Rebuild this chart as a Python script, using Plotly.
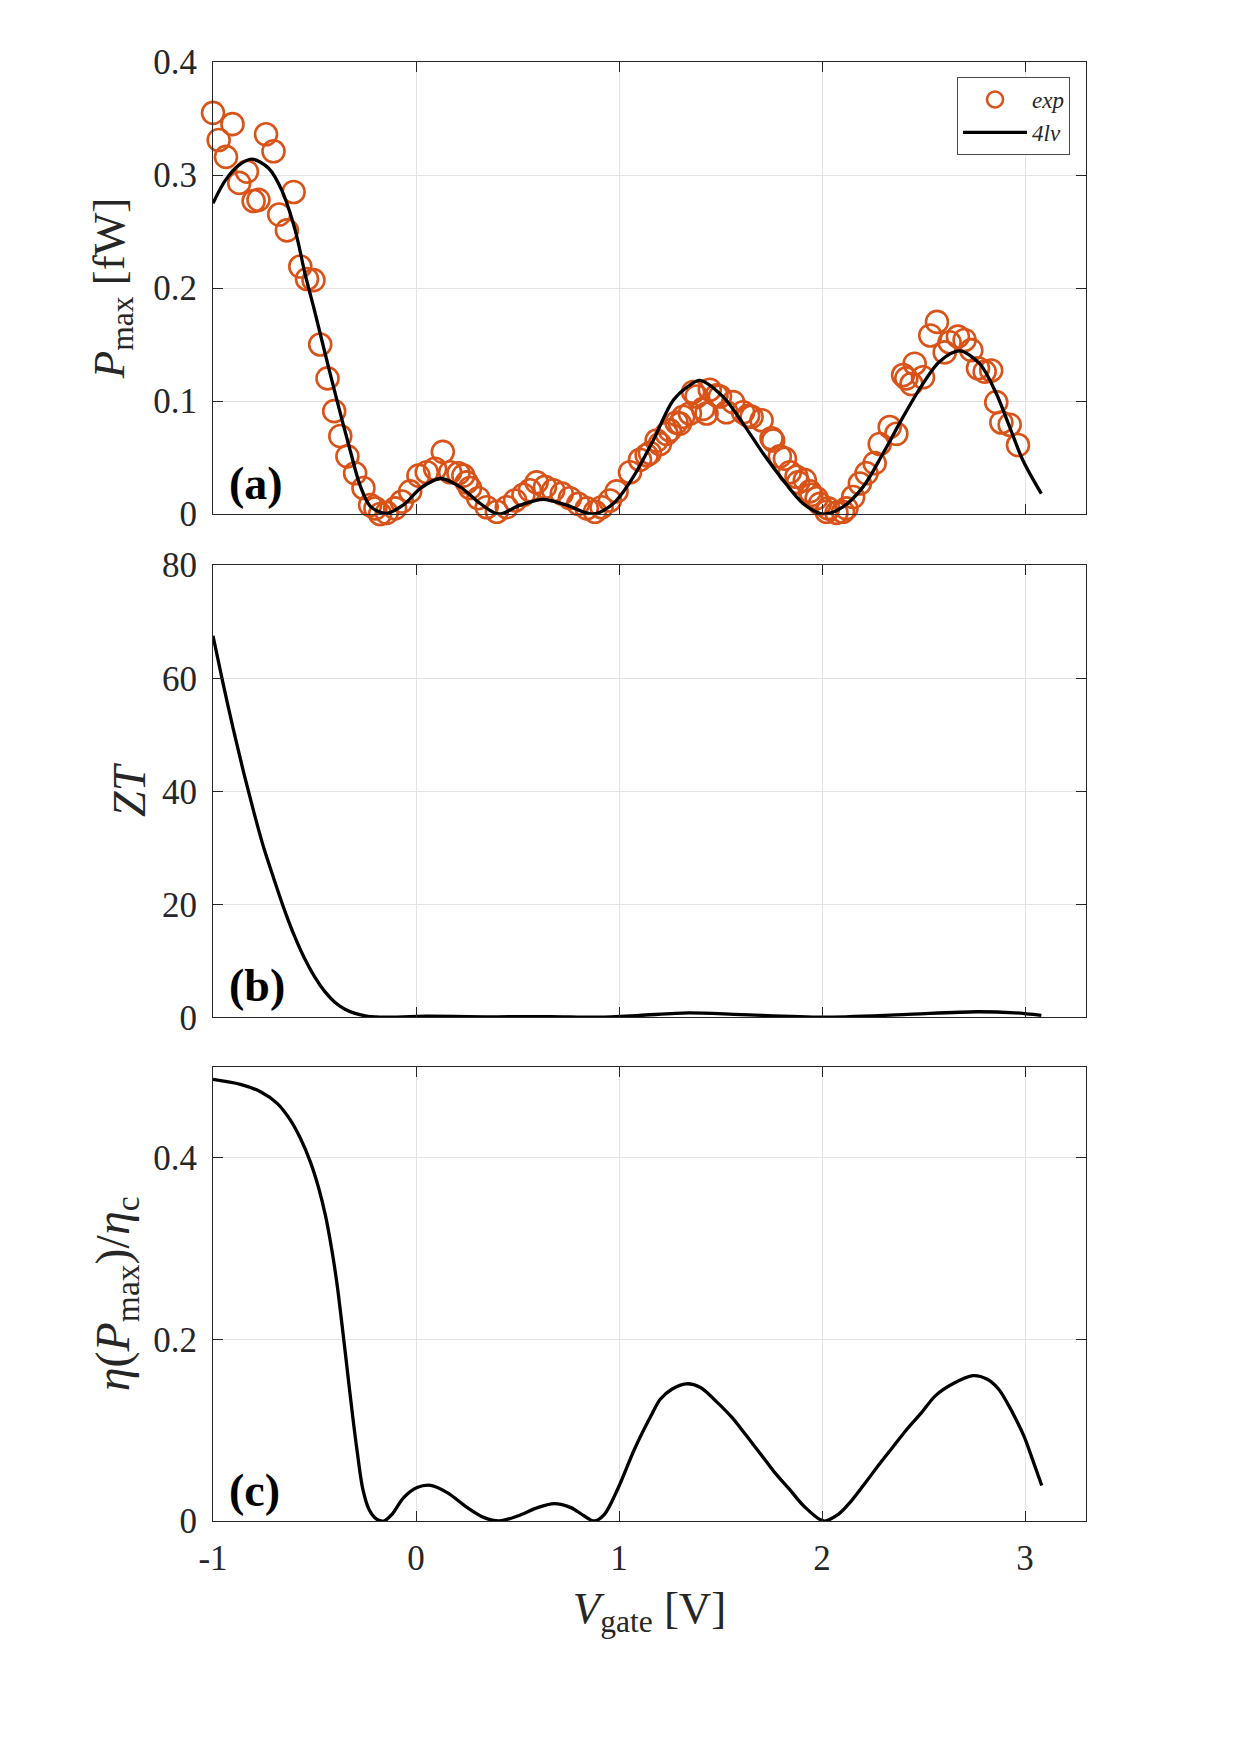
import plotly.graph_objects as go

# ---------------- data ----------------
# Panel (a): experimental P_max [fW]
exp_v = [-1.000, -0.972, -0.936, -0.904, -0.871, -0.833, -0.800, -0.776, -0.739, -0.702,
         -0.674, -0.636, -0.603, -0.570, -0.537, -0.505, -0.472, -0.436, -0.403, -0.373,
         -0.338, -0.300, -0.259, -0.226, -0.200, -0.177, -0.144, -0.103, -0.070, -0.029,
         0.012, 0.053, 0.094, 0.132, 0.168, 0.209, 0.233, 0.250, 0.266, 0.307,
         0.348, 0.398, 0.447, 0.488, 0.529, 0.561, 0.594, 0.635, 0.676, 0.718,
         0.758, 0.799, 0.841, 0.881, 0.914, 0.955, 0.988, 1.054, 1.103, 1.136,
         1.152, 1.185, 1.201, 1.234, 1.250, 1.283, 1.300, 1.316, 1.349, 1.365,
         1.382, 1.414, 1.431, 1.447, 1.480, 1.497, 1.529, 1.562, 1.611, 1.636,
         1.653, 1.702, 1.751, 1.759, 1.792, 1.817, 1.841, 1.874, 1.882, 1.915,
         1.940, 1.948, 1.973, 1.989, 2.022, 2.030, 2.071, 2.103, 2.120, 2.153,
         2.186, 2.219, 2.259, 2.284, 2.333, 2.366, 2.399, 2.415, 2.440, 2.456,
         2.497, 2.533, 2.566, 2.604, 2.628, 2.669, 2.702, 2.735, 2.768, 2.801,
         2.833, 2.858, 2.883, 2.924, 2.965]
exp_p = [0.355, 0.331, 0.316, 0.345, 0.293, 0.303, 0.277, 0.278, 0.336, 0.321,
         0.265, 0.251, 0.285, 0.219, 0.208, 0.207, 0.150, 0.120, 0.091, 0.069,
         0.051, 0.036, 0.023, 0.008, 0.005, 0.000, 0.001, 0.005, 0.011, 0.020,
         0.034, 0.037, 0.040, 0.055, 0.037, 0.036, 0.034, 0.028, 0.023, 0.014,
         0.006, 0.002, 0.006, 0.012, 0.017, 0.021, 0.028, 0.024, 0.021, 0.018,
         0.014, 0.009, 0.005, 0.002, 0.006, 0.012, 0.020, 0.037, 0.048, 0.052,
         0.054, 0.065, 0.062, 0.071, 0.074, 0.081, 0.080, 0.086, 0.089, 0.108,
         0.104, 0.093, 0.089, 0.110, 0.105, 0.104, 0.090, 0.099, 0.090, 0.087,
         0.086, 0.083, 0.067, 0.065, 0.051, 0.049, 0.037, 0.033, 0.028, 0.030,
         0.020, 0.017, 0.014, 0.009, 0.002, 0.005, 0.001, 0.002, 0.005, 0.015,
         0.027, 0.036, 0.045, 0.062, 0.077, 0.071, 0.123, 0.120, 0.115, 0.133,
         0.121, 0.158, 0.170, 0.143, 0.152, 0.157, 0.154, 0.145, 0.129, 0.126,
         0.127, 0.099, 0.081, 0.079, 0.061]

# Panel (a): 4-level model P_max [fW]
fit_v = [-1.000, -0.940, -0.874, -0.808, -0.726, -0.660, -0.595, -0.546, -0.500, -0.456,
         -0.390, -0.324, -0.275, -0.226, -0.152, -0.062, 0.020, 0.119, 0.217, 0.316,
         0.406, 0.512, 0.627, 0.742, 0.873, 0.972, 1.070, 1.168, 1.267, 1.349,
         1.398, 1.513, 1.611, 1.710, 1.808, 1.906, 2.005, 2.103, 2.202, 2.300,
         2.399, 2.497, 2.579, 2.677, 2.776, 2.858, 2.924, 2.989, 3.080]
fit_p = [0.275, 0.295, 0.3085, 0.314, 0.306, 0.286, 0.251, 0.212, 0.180, 0.148,
         0.101, 0.056, 0.025, 0.007, 0.0005, 0.008, 0.0225, 0.0314, 0.024, 0.0093,
         0.0, 0.0078, 0.013, 0.0078, 0.0, 0.0093, 0.0328, 0.065, 0.1006, 0.114,
         0.1183, 0.1036, 0.080, 0.0535, 0.030, 0.0093, 0.0, 0.0063, 0.024, 0.0535,
         0.0859, 0.1154, 0.135, 0.1443, 0.133, 0.1066, 0.077, 0.0476, 0.018]

# Panel (b): ZT
zt_v = [-1.00, -0.95, -0.90, -0.85, -0.80, -0.75, -0.70, -0.65, -0.60, -0.55,
        -0.50, -0.45, -0.40, -0.35, -0.30, -0.25, -0.20, -0.15, 0.05, 0.40,
        0.66, 0.90, 1.10, 1.34, 1.60, 2.00, 2.40, 2.76, 2.95, 3.08]
zt = [67.5, 59.0, 51.0, 43.5, 36.5, 30.0, 24.5, 19.2, 14.5, 10.5,
      7.2, 4.6, 2.7, 1.45, 0.7, 0.28, 0.08, 0.03, 0.2, 0.1,
      0.15, 0.05, 0.35, 0.8, 0.5, 0.05, 0.5, 1.0, 0.8, 0.35]

# Panel (c): eta(P_max)/eta_c
eta_v = [-1.000, -0.865, -0.766, -0.684, -0.618, -0.569, -0.520, -0.479, -0.446, -0.413,
         -0.388, -0.364, -0.339, -0.314, -0.289, -0.262, -0.232, -0.194, -0.158, -0.118,
         -0.061, 0.005, 0.072, 0.154, 0.253, 0.336, 0.410, 0.500, 0.599, 0.681,
         0.763, 0.829, 0.878, 0.928, 0.993, 1.076, 1.158, 1.203, 1.260, 1.331,
         1.401, 1.486, 1.556, 1.627, 1.698, 1.768, 1.839, 1.910, 2.008, 2.080,
         2.136, 2.206, 2.277, 2.347, 2.418, 2.489, 2.559, 2.644, 2.743, 2.814,
         2.870, 2.912, 2.955, 2.997, 3.025, 3.082]
eta = [0.486, 0.4805, 0.4724, 0.4596, 0.441, 0.421, 0.395, 0.366, 0.336, 0.296,
       0.259, 0.215, 0.167, 0.119, 0.075, 0.035, 0.013, 0.002, 0.0, 0.0074,
       0.0257, 0.0368, 0.0393, 0.0313, 0.0147, 0.0037, 0.0, 0.0055, 0.0147, 0.0191,
       0.0147, 0.0055, 0.0, 0.0074, 0.035, 0.079, 0.116, 0.134, 0.145, 0.151,
       0.147, 0.130, 0.114, 0.094, 0.0735, 0.053, 0.035, 0.0165, 0.0, 0.0074,
       0.020, 0.040, 0.061, 0.081, 0.101, 0.119, 0.138, 0.151, 0.160, 0.156,
       0.145, 0.130, 0.112, 0.092, 0.075, 0.039]

x_ticks = [-1, 0, 1, 2, 3]
x_ticktext = ["-1", "0", "1", "2", "3"]
pa_ticks = [0, 0.1, 0.2, 0.3, 0.4]
pa_ticktext = ["0", "0.1", "0.2", "0.3", "0.4"]
zt_ticks = [0, 20, 40, 60, 80]
eta_ticks = [0, 0.2, 0.4]
eta_ticktext = ["0", "0.2", "0.4"]
panel_labels = ["(a)", "(b)", "(c)"]

# ---------------- styling ----------------
FONT = "Liberation Serif"
TXT = "#262626"
ORANGE = "#D95319"
GRID = "#e3e3e3"

fig = go.Figure()
fig.add_trace(go.Scatter(x=exp_v, y=exp_p, mode="markers", name="<i>exp</i>",
                         marker=dict(symbol="circle-open", size=22, color=ORANGE,
                                     line=dict(width=2.6, color=ORANGE)),
                         cliponaxis=False, xaxis="x", yaxis="y"))
fig.add_trace(go.Scatter(x=fit_v, y=fit_p, mode="lines", name="<i>4lv</i>",
                         line=dict(color="black", width=3.3, shape="spline", smoothing=0.9),
                         xaxis="x", yaxis="y"))
fig.add_trace(go.Scatter(x=zt_v, y=zt, mode="lines", showlegend=False,
                         line=dict(color="black", width=3.3, shape="spline", smoothing=0.8),
                         xaxis="x2", yaxis="y2"))
fig.add_trace(go.Scatter(x=eta_v, y=eta, mode="lines", showlegend=False,
                         line=dict(color="black", width=3.3, shape="spline", smoothing=0.9),
                         xaxis="x3", yaxis="y3"))

L, R, T, B = 213, 154, 62, 234
W, H = 1240, 1755
ph = H - T - B


def dom(top_px, bot_px):
    lo = 1 - (bot_px - T) / ph
    hi = 1 - (top_px - T) / ph
    return [max(0.0, min(1.0, lo)), max(0.0, min(1.0, hi))]


tickfont = dict(family=FONT, size=35, color=TXT)
common_x = dict(range=[-1, 3.3], tickvals=x_ticks, ticktext=x_ticktext,
                showgrid=True, gridcolor=GRID, gridwidth=1, zeroline=False,
                showline=True, linecolor=TXT, linewidth=1, mirror="ticks",
                ticks="inside", ticklen=10, tickcolor=TXT, tickfont=tickfont)
common_y = dict(showgrid=True, gridcolor=GRID, gridwidth=1, zeroline=False,
                showline=True, linecolor=TXT, linewidth=1, mirror="ticks",
                ticks="inside", ticklen=10, tickcolor=TXT, tickfont=tickfont,
                ticklabelstandoff=8)


def tf(size):
    return dict(family=FONT, size=size, color=TXT)


fig.update_layout(
    width=W, height=H,
    margin=dict(l=L, r=R, t=T, b=B, pad=0),
    paper_bgcolor="white", plot_bgcolor="white",
    font=dict(family=FONT, color=TXT),
    xaxis=dict(common_x, anchor="y", showticklabels=False),
    xaxis2=dict(common_x, anchor="y2", showticklabels=False, matches="x"),
    xaxis3=dict(common_x, anchor="y3", ticklabelstandoff=6,
                title=dict(text="<i>V</i><sub>gate</sub> [V]", font=tf(45), standoff=14)),
    yaxis=dict(common_y, domain=dom(62, 514), range=[0, 0.4], tickvals=pa_ticks,
               ticktext=pa_ticktext,
               title=dict(text="<i>P</i><sub>max</sub> [fW]", font=tf(45), standoff=14)),
    yaxis2=dict(common_y, domain=dom(565.2, 1017.4), range=[0, 80], tickvals=zt_ticks,
                title=dict(text="<i>ZT</i>", font=tf(46), standoff=1)),
    yaxis3=dict(common_y, domain=dom(1066.7, 1521), range=[0, 0.5], tickvals=eta_ticks,
                ticktext=eta_ticktext,
                title=dict(text="<i>η</i>(<i>P</i><sub>max</sub>)/<i>η</i><sub>c</sub>",
                           font=tf(48), standoff=8)),
    legend=dict(x=0.9817, y=0.9897, xanchor="right", yanchor="top",
                bgcolor="white", bordercolor="#4a4a4a", borderwidth=1,
                itemwidth=64, tracegroupgap=0,
                font=dict(family=FONT, size=23, color=TXT)),
    showlegend=True,
)

label_y = [483.5, 985, 1490]
for lab, yy in zip(panel_labels, label_y):
    fig.add_annotation(text="<b>" + lab + "</b>", xref="paper", yref="paper",
                       x=(227 - L) / (W - L - R), y=1 - (yy - T) / ph,
                       xanchor="left", yanchor="middle", showarrow=False,
                       font=dict(family=FONT, size=46, color="black"))

fig.write_html("out.html")
